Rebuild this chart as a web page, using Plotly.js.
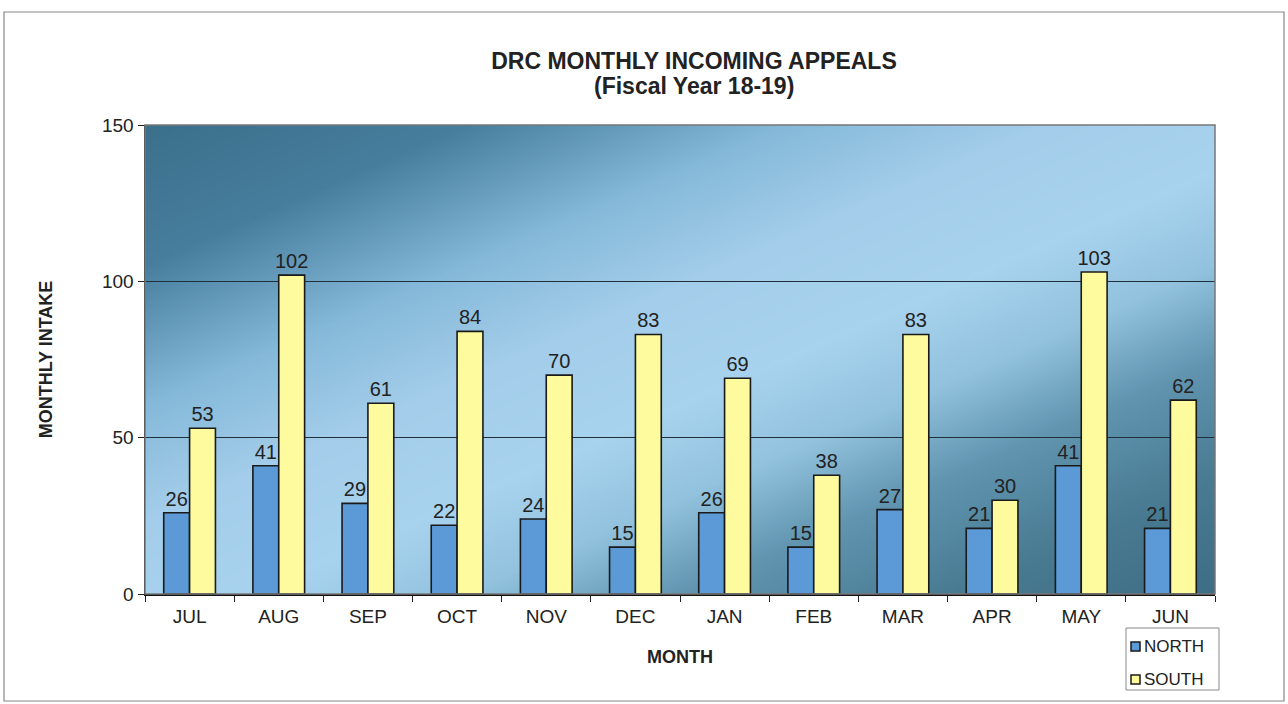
<!DOCTYPE html>
<html>
<head>
<meta charset="utf-8">
<script src="https://cdn.plot.ly/plotly-3.0.1.min.js"></script>
<style>
html,body{margin:0;padding:0;background:#fff;}
#chart{width:1288px;height:704px;}
</style>
</head>
<body>
<div id="chart"></div>
<script>
const months = ["JUL","AUG","SEP","OCT","NOV","DEC","JAN","FEB","MAR","APR","MAY","JUN"];
const north = [26,41,29,22,24,15,26,15,27,21,41,21];
const south = [53,102,61,84,70,83,69,38,83,30,103,62];
const yTicks = [0,50,100,150];
const seriesNames = ["NORTH","SOUTH"];
const seriesColors = ["#5b9ad6","#fdfb9e"];
const titleLine1 = "DRC MONTHLY INCOMING APPEALS";
const titleLine2 = "(Fiscal Year 18-19)";

// gradient background image for plot area
function gradientURL(){
  const c = document.createElement('canvas');
  c.width = 512; c.height = 512;
  const g = c.getContext('2d');
  const lg = g.createLinearGradient(0,0,512,512);
  lg.addColorStop(0.00,'#3b708b');
  lg.addColorStop(0.15,'#477e9d');
  lg.addColorStop(0.30,'#85b9d9');
  lg.addColorStop(0.42,'#a3cdea');
  lg.addColorStop(0.55,'#a8d3ee');
  lg.addColorStop(0.65,'#92c2de');
  lg.addColorStop(0.75,'#6195b0');
  lg.addColorStop(0.88,'#487a91');
  lg.addColorStop(1.00,'#3e6e85');
  g.fillStyle = lg;
  g.fillRect(0,0,512,512);
  return c.toDataURL('image/png');
}

const font = 'Liberation Sans, Arial, sans-serif';
const traces = [
  {type:'bar', name:seriesNames[0], x:months, y:north,
   marker:{color:seriesColors[0], line:{color:'#1a1a1a', width:1.6}},
   text:north.map(String), textposition:'outside', cliponaxis:false, constraintext:'none',
   textfont:{family:font, size:20, color:'#222'}},
  {type:'bar', name:seriesNames[1], x:months, y:south,
   marker:{color:seriesColors[1], line:{color:'#1a1a1a', width:1.6}},
   text:south.map(String), textposition:'outside', cliponaxis:false, constraintext:'none',
   textfont:{family:font, size:20, color:'#222'}}
];

// manual legend (box, swatches, labels) in paper coordinates
const pxX = v => (v-145)/1070;
const pxY = v => (594-v)/469;
const legendShapes = [
  {type:'rect', xref:'paper', yref:'paper', x0:pxX(1126), x1:pxX(1219), y0:pxY(690), y1:pxY(628),
   line:{color:'#888', width:1}, fillcolor:'#ffffff'}
];
const anns = [];
const rowY = [646, 679];
seriesNames.forEach((n,i)=>{
  legendShapes.push({type:'rect', xref:'paper', yref:'paper',
    x0:pxX(1131), x1:pxX(1140), y0:pxY(rowY[i]+5), y1:pxY(rowY[i]-4),
    line:{color:'#1a1a1a', width:1.5}, fillcolor:seriesColors[i]});
  anns.push({xref:'paper', yref:'paper', x:pxX(1142), y:pxY(rowY[i]), xanchor:'left', yanchor:'middle',
    text:n, showarrow:false, font:{family:font, size:17, color:'#222'}});
});
anns.push({xref:'paper', yref:'paper', x:pxX(694), y:pxY(86), xanchor:'center', yanchor:'middle',
  text:'<b>'+titleLine2+'</b>', showarrow:false, font:{family:font, size:23, color:'#222'}});

const layout = {
  width:1288, height:704,
  margin:{l:145, r:73, t:125, b:110},
  paper_bgcolor:'#ffffff',
  plot_bgcolor:'rgba(0,0,0,0)',
  font:{family:font, color:'#222'},
  title:{text:'<b>'+titleLine1+'</b>',
         font:{family:font, size:23, color:'#222'},
         x:pxX(694), xref:'paper', xanchor:'center', yref:'container', y:1-61/704, yanchor:'middle'},
  barmode:'group', bargap:0.42, bargroupgap:0,
  showlegend:false,
  xaxis:{
    tickfont:{family:font, size:19, color:'#222'},
    ticks:'outside', tickson:'boundaries', ticklen:6, tickcolor:'#222',
    ticklabelstandoff:5,
    showline:true, linecolor:'#111', linewidth:1.5,
    title:{text:'<b>MONTH</b>', font:{family:font, size:18, color:'#222'}, standoff:24},
    showgrid:false
  },
  yaxis:{
    range:[0,150], tickvals:yTicks, ticktext:yTicks.map(String),
    tickfont:{family:font, size:19, color:'#222'},
    ticks:'outside', ticklen:6, tickcolor:'#222',
    showline:true, linecolor:'#111', linewidth:1.5,
    showgrid:true, gridcolor:'#1f2f3c', gridwidth:1,
    zeroline:false,
    title:{text:'<b>MONTHLY INTAKE</b>', font:{family:font, size:18, color:'#222'}, standoff:44}
  },
  images:[{source:gradientURL(), xref:'paper', yref:'paper', x:0, y:1,
           sizex:1, sizey:1, sizing:'stretch', layer:'below', xanchor:'left', yanchor:'top'}],
  shapes:[
    {type:'rect', xref:'paper', yref:'paper', x0:0, x1:1, y0:0, y1:1,
     line:{color:'#777', width:1.5}, layer:'above'},
    {type:'rect', xref:'paper', yref:'paper', x0:pxX(4), x1:pxX(1284), y0:pxY(701), y1:pxY(12),
     line:{color:'#888', width:1.2}}
  ].concat(legendShapes),
  annotations:anns
};

Plotly.newPlot('chart', traces, layout, {displayModeBar:false, staticPlot:true});
</script>
</body>
</html>
